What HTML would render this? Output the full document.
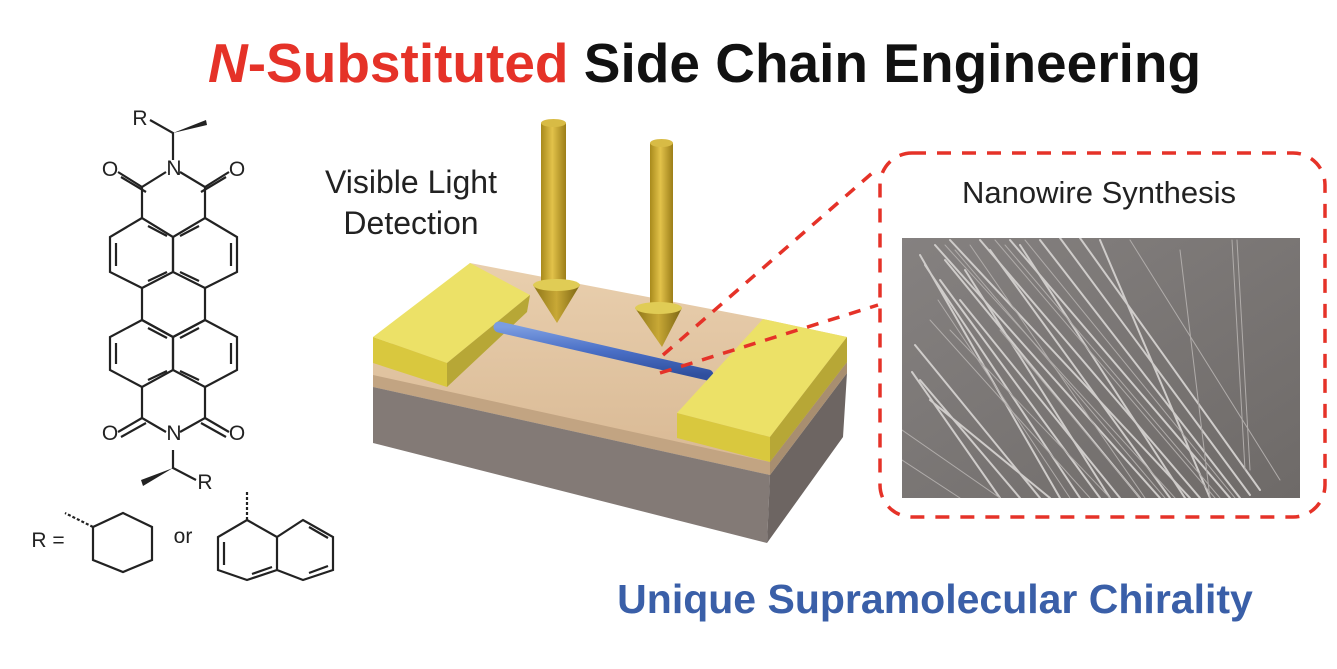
<!DOCTYPE html>
<html><head><meta charset="utf-8"><style>
html,body{margin:0;padding:0;background:#fff;}
svg{display:block;font-family:"Liberation Sans",Arial,sans-serif;}
</style></head><body>
<svg width="1337" height="669" viewBox="0 0 1337 669" xmlns="http://www.w3.org/2000/svg">
<defs>
<linearGradient id="gold" x1="0" x2="1"><stop offset="0" stop-color="#a88a1c"/><stop offset="0.45" stop-color="#e2c24a"/><stop offset="1" stop-color="#9c7e18"/></linearGradient>
<linearGradient id="cone" x1="0" x2="1"><stop offset="0" stop-color="#8d7417"/><stop offset="0.5" stop-color="#c8a836"/><stop offset="1" stop-color="#7a6412"/></linearGradient>
<linearGradient id="tan" x1="0" y1="0" x2="0" y2="1"><stop offset="0" stop-color="#e9cfae"/><stop offset="1" stop-color="#d8b893"/></linearGradient>
<linearGradient id="blue" x1="0" y1="0" x2="0" y2="1"><stop offset="0" stop-color="#7b9de0"/><stop offset="0.5" stop-color="#4a6fc6"/><stop offset="1" stop-color="#2f4f9e"/></linearGradient>
<linearGradient id="sem" x1="0" y1="0" x2="1" y2="1"><stop offset="0" stop-color="#858180"/><stop offset="1" stop-color="#6e6a68"/></linearGradient>
<clipPath id="semclip"><rect x="902" y="238" width="398" height="260"/></clipPath>
</defs>

<!-- Title -->
<text x="208" y="82" font-size="55" font-weight="bold"><tspan fill="#e53228" font-style="italic">N</tspan><tspan fill="#e53228">-Substituted</tspan><tspan fill="#111"> Side Chain Engineering</tspan></text>

<!-- Molecule -->
<g stroke="#222" stroke-width="2.2" fill="none">
<path d="M142,218 L110,237 L110,272 L142,288 L173,272 L173,237 Z"/>
<path d="M205,218 L237,237 L237,272 L205,288 L173,272 L173,237 Z"/>
<path d="M142,288 L142,320 M205,288 L205,320"/>
<path d="M142,320 L110,337 L110,370 L142,387 L173,370 L173,337 Z"/>
<path d="M205,320 L237,337 L237,370 L205,387 L173,370 L173,337 Z"/>
<path d="M142,320 L173,337 M205,320 L173,337"/>
<path d="M142,218 L142,187 L166,172 M180,172 L205,187 L205,218"/>
<path d="M142,387 L142,418 L166,432 M180,432 L205,418 L205,387"/>
<path d="M173,160 L173,133 L150,120 M173,450 L173,468 L196,480"/>
<path d="M142,187 L118,172 M146,192 L121,177 M205,187 L229,172 M201,192 L226,177"/>
<path d="M142,418 L118,432 M146,423 L121,437 M205,418 L229,432 M201,423 L226,437"/>
<path d="M116,243 L116,266 M231,243 L231,266 M148,226 L167,236 M199,226 L180,236 M148,281 L167,272 M199,281 L180,272"/>
<path d="M116,343 L116,364 M231,343 L231,364 M148,328 L167,338 M199,328 L180,338 M148,380 L167,371 M199,380 L180,371"/>
<path d="M93,527 L123,513 L152,527 L152,560 L123,572 L93,560 Z"/>
<path d="M247,520 L277,537 L277,570 L247,580 L218,570 L218,537 Z M277,537 L303,520 L333,537 L333,570 L303,580 L277,570"/>
<path d="M224,542 L224,565 M252,574 L272,567 M309,527 L328,538 M309,573 L328,566"/>
<path d="M93,527 L65,513 M247,520 L247,490" stroke-dasharray="3,2"/>
</g>
<polygon points="173,133 206,120 207,125" fill="#222"/>
<polygon points="173,468 141,480 143,486" fill="#222"/>
<g font-size="21" fill="#222" text-anchor="middle">
<text x="140" y="125">R</text><text x="174" y="175">N</text>
<text x="110" y="176">O</text><text x="237" y="176">O</text>
<text x="174" y="440">N</text><text x="110" y="440">O</text><text x="237" y="440">O</text>
<text x="205" y="489">R</text>
<text x="48" y="547">R =</text><text x="183" y="543">or</text>
</g>

<!-- Device -->
<polygon points="373,363 470,263 763,319 847,337 847,373 770,475 373,387" fill="url(#tan)"/>
<polygon points="373,375 770,462 770,475 373,387" fill="#c2a482"/>
<polygon points="373,387 770,475 767,543 373,443" fill="#837a76"/>
<polygon points="770,475 847,373 843,437 767,543" fill="#6d6562"/>
<polygon points="770,462 847,362 847,373 770,475" fill="#a88e70"/>
<polygon points="373,337 470,263 530,295 447,363" fill="#ece167"/>
<polygon points="373,337 447,363 447,387 373,363" fill="#d9c83e"/>
<polygon points="447,363 530,295 527,312 447,387" fill="#b7a736"/>
<line x1="499" y1="327" x2="708" y2="375" stroke="url(#blue)" stroke-width="11" stroke-linecap="round"/>
<polygon points="677,413 763,319 847,337 770,437" fill="#ece167"/>
<polygon points="677,413 770,437 770,462 677,438" fill="#d9c83e"/>
<polygon points="770,437 847,337 847,362 770,462" fill="#b7a736"/>
<rect x="541" y="123" width="25" height="162" fill="url(#gold)"/>
<ellipse cx="553.5" cy="123" rx="12.5" ry="4" fill="#d8bb45"/>
<polygon points="533,285 580,285 557,323" fill="url(#cone)"/>
<ellipse cx="556.5" cy="285" rx="23.5" ry="6" fill="#e0cc55"/>
<rect x="650" y="143" width="23" height="165" fill="url(#gold)"/>
<ellipse cx="661.5" cy="143" rx="11.5" ry="4" fill="#d8bb45"/>
<polygon points="635,308 682,308 662,347" fill="url(#cone)"/>
<ellipse cx="658.5" cy="308" rx="23.5" ry="6" fill="#e0cc55"/>

<text x="411" y="193" font-size="32" fill="#222" text-anchor="middle">Visible Light</text>
<text x="411" y="234" font-size="32" fill="#222" text-anchor="middle">Detection</text>

<!-- SEM -->
<rect x="902" y="238" width="398" height="260" fill="url(#sem)"/>
<g clip-path="url(#semclip)" stroke="#cfccca" fill="none" stroke-linecap="round">
<g stroke-width="2">
<path d="M935,245 L1160,498 M950,240 L1190,498 M980,240 L1200,498 M1010,240 L1230,498 M1040,240 L1240,498 M1060,238 L1250,495 M1080,238 L1260,490 M1100,240 L1210,498"/>
<path d="M920,255 L1060,498 M925,265 L1080,498 M940,280 L1100,498 M960,300 L1120,498 M915,345 L1040,498 M912,372 L1000,498 M920,380 L1020,498 M930,400 L1050,498"/>
<path d="M945,260 L1140,498 M990,250 L1170,498 M1020,245 L1185,498 M965,270 L1110,498"/>
</g>
<g stroke-width="1" stroke="#b0acaa">
<path d="M945,245 L1175,498 M995,240 L1215,498 M1025,240 L1235,498 M970,245 L1145,498 M930,320 L1090,498 M950,330 L1110,498 M1000,330 L1140,498 M1232,240 L1245,470 M1237,240 L1250,470 M1180,250 L1210,498"/>
<path d="M902,430 L1000,498 M902,460 L960,498 M1130,240 L1280,480 M955,250 L1165,498 M1005,245 L1220,498 M938,300 L1070,498"/>
</g>
</g>
<rect x="880" y="153" width="445" height="364" rx="32" fill="none" stroke="#e53228" stroke-width="3.5" stroke-dasharray="14,11"/>
<text x="1099" y="203" font-size="31" fill="#222" text-anchor="middle">Nanowire Synthesis</text>
<g stroke="#e53228" stroke-width="3.5" stroke-dasharray="12,10" fill="none">
<line x1="663" y1="355" x2="878" y2="168"/>
<line x1="660" y1="373" x2="878" y2="305"/>
</g>

<text x="935" y="613" font-size="41" font-weight="bold" fill="#3a5fa8" text-anchor="middle">Unique Supramolecular Chirality</text>
</svg>
</body></html>
